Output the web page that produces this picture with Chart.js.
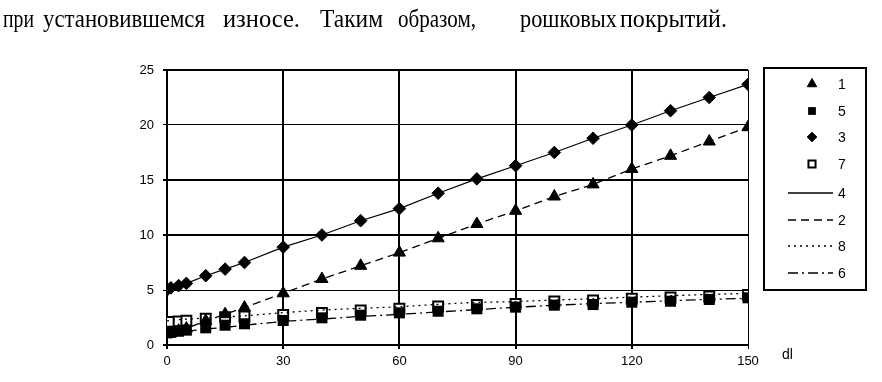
<!DOCTYPE html>
<html><head><meta charset="utf-8">
<script src="https://cdn.jsdelivr.net/npm/chart.js@4.4.0/dist/chart.umd.min.js"></script>
<style>
html,body{margin:0;padding:0;background:#fff;}
#wrap{position:relative;width:882px;height:382px;overflow:hidden;background:#fff;}
#c{position:absolute;left:0;top:0;}
.w{position:absolute;top:5px;font-family:"Liberation Serif","Times New Roman",serif;font-size:25px;color:#000;white-space:nowrap;line-height:normal;transform-origin:0 0;}
#dl{position:absolute;left:782px;top:346px;font-family:"Liberation Sans",Arial,sans-serif;font-size:14px;color:#000;}
</style></head><body>
<div id="wrap">
<canvas id="c" width="882" height="382" style="width:882px;height:382px"></canvas>
<span class="w" data-w="31" style="left:3px">при</span>
<span class="w" data-w="162" style="left:43px">установившемся</span>
<span class="w" data-w="77" style="left:223px">износе.</span>
<span class="w" data-w="63" style="left:320px">Таким</span>
<span class="w" data-w="78" style="left:398px">образом,</span>
<span class="w" data-w="97" style="left:520px">рошковых</span>
<span class="w" data-w="107" style="left:620px">покрытий.</span>
<span id="dl">dl</span>
</div>
<script>
// fit each word of the caption to its measured width in the reference
document.querySelectorAll('.w').forEach(el=>{
  const target = +el.dataset.w, actual = el.getBoundingClientRect().width;
  if (actual>0) el.style.transform = 'scaleX(' + (target/actual) + ')';
});

// ---- data ----
const xValues = [0,1,3,5,10,15,20,30,40,50,60,70,80,90,100,110,120,130,140,150];
const series1 = [1.0,1.1,1.3,1.5,2.2,2.8,3.4,4.7,6.0,7.2,8.4,9.7,11.0,12.2,13.5,14.6,16.0,17.2,18.5,19.8];
const series5 = [1.1,1.15,1.25,1.35,1.56,1.8,1.93,2.23,2.47,2.71,2.92,3.07,3.29,3.44,3.62,3.68,3.89,3.98,4.14,4.29];
const series3 = [5.0,5.2,5.4,5.6,6.3,6.9,7.5,8.9,10.0,11.3,12.4,13.8,15.1,16.3,17.5,18.8,20.0,21.3,22.5,23.7];
const series7 = [2.07,2.1,2.15,2.2,2.38,2.53,2.59,2.74,2.92,3.14,3.29,3.5,3.65,3.74,3.95,4.05,4.2,4.32,4.41,4.56];
const line4 = series3;
const line2 = series1;
const line8 = [2.2,2.25,2.3,2.35,2.45,2.55,2.65,2.94,3.18,3.33,3.48,3.7,3.88,3.94,4.09,4.2,4.35,4.48,4.6,4.7];
const line6 = [1.0,1.05,1.15,1.25,1.45,1.6,1.8,2.15,2.36,2.6,2.79,3.0,3.22,3.43,3.61,3.77,3.88,4.03,4.15,4.24];
const xTicks = [0,30,60,90,120,150];
const yTicks = [0,5,10,15,20,25];
const labels = ['1','5','3','7','4','2','8','6'];

const pts = arr => arr.map((v,i)=>({x:xValues[i], y:v}));

const datasets = [
  {label:labels[0], data:pts(series1), showLine:false, pointStyle:'triangle', pointRadius:7, pointBackgroundColor:'#000', pointBorderColor:'#000', pointBorderWidth:1, order:2, legendRadius:5.5},
  {label:labels[1], data:pts(series5), showLine:false, pointStyle:'rect', pointRadius:7.8, pointBackgroundColor:'#000', pointBorderColor:'#000', pointBorderWidth:0, order:3, legendRadius:5.5},
  {label:labels[2], data:pts(series3), showLine:false, pointStyle:'rectRot', pointRadius:6.3, pointBackgroundColor:'#000', pointBorderColor:'#000', pointBorderWidth:1, order:2, legendRadius:4.8},
  {label:labels[3], data:pts(series7), showLine:false, pointStyle:'rect', pointRadius:7, pointBackgroundColor:'#fff', pointBorderColor:'#000', pointBorderWidth:2, order:4, legendRadius:5},
  {label:labels[4], data:pts(line4), showLine:true, pointRadius:0, borderColor:'#000', borderWidth:1.2, borderDash:[], order:1, isLine:true},
  {label:labels[5], data:pts(line2), showLine:true, pointRadius:0, borderColor:'#000', borderWidth:1.3, borderDash:[8,5], order:1, isLine:true},
  {label:labels[6], data:pts(line8), showLine:true, pointRadius:0, borderColor:'#000', borderWidth:1.3, borderDash:[2,4], order:1, isLine:true},
  {label:labels[7], data:pts(line6), showLine:true, pointRadius:0, borderColor:'#000', borderWidth:1.3, borderDash:[10,4,2,4], order:1, isLine:true}
];

const legendPlugin = {
  id:'boxLegend',
  afterDraw(chart){
    const ctx = chart.ctx;
    ctx.save();
    ctx.lineWidth = 2;
    ctx.strokeStyle = '#000';
    ctx.strokeRect(764, 68, 102, 222);
    ctx.font = '14px "Liberation Sans", Arial, sans-serif';
    ctx.textBaseline = 'middle';
    ctx.fillStyle = '#000';
    const ys = [84,111,137,164,193,220,246,273];
    chart.data.datasets.forEach((ds,i)=>{
      const y = ys[i];
      if (ds.isLine){
        ctx.save();
        ctx.lineWidth = 1.6;
        ctx.setLineDash(ds.borderDash);
        ctx.beginPath(); ctx.moveTo(788,y); ctx.lineTo(833,y); ctx.stroke();
        ctx.restore();
      } else {
        ctx.save();
        ctx.fillStyle = ds.pointBackgroundColor;
        ctx.strokeStyle = ds.pointBorderColor;
        ctx.lineWidth = ds.pointBorderWidth;
        Chart.helpers.drawPoint(ctx, {pointStyle:ds.pointStyle, radius:ds.legendRadius, rotation:0, borderWidth:ds.pointBorderWidth}, 812, y);
        ctx.restore();
      }
      ctx.fillStyle = '#000';
      ctx.fillText(ds.label, 838, y+1);
    });
    ctx.restore();
  }
};

const thick = 2, thin = 1;
new Chart(document.getElementById('c'), {
  type:'scatter',
  data:{datasets},
  options:{
    responsive:false, animation:false, devicePixelRatio:1,
    layout:{padding:{left:0, right:134, top:70, bottom:0}},
    plugins:{legend:{display:false}, tooltip:{enabled:false}},
    scales:{
      x:{
        type:'linear', min:0, max:150,
        afterBuildTicks(s){ s.ticks = xTicks.map(v=>({value:v})); },
        afterFit(s){ s.height = 37; },
        ticks:{color:'#000', font:{family:'"Liberation Sans", Arial, sans-serif', size:13}, padding:5, maxRotation:0},
        grid:{color:'#000', lineWidth:c=> (c.tick && c.tick.value===150) ? thin : thick, tickLength:4, drawTicks:true},
        border:{display:true, color:'#000', width:2}
      },
      y:{
        type:'linear', min:0, max:25,
        afterBuildTicks(s){ s.ticks = yTicks.map(v=>({value:v})); },
        afterFit(s){ s.width = 167; },
        ticks:{color:'#000', font:{family:'"Liberation Sans", Arial, sans-serif', size:13}, padding:9},
        grid:{color:'#000', lineWidth:c=> (c.tick && (c.tick.value===20 || c.tick.value===5)) ? thin : thick, tickLength:4, drawTicks:true},
        border:{display:true, color:'#000', width:2}
      }
    }
  },
  plugins:[legendPlugin]
});
</script>
</body></html>
